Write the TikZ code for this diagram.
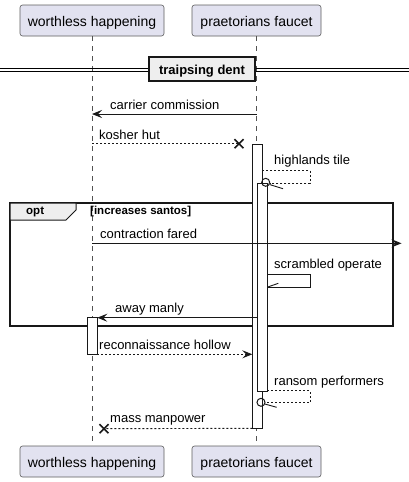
\documentclass[tikz,border=0pt]{standalone}
\usepackage{fontspec}
\setmainfont{Liberation Sans}
\usetikzlibrary{arrows.meta,calc}
\definecolor{partfill}{HTML}{E2E2F0}
\definecolor{partline}{HTML}{181818}
\definecolor{grayfill}{HTML}{EEEEEE}
\begin{document}
\begin{tikzpicture}[x=1pt,y=-1pt, font=\fontsize{13}{15}\selectfont,
 part/.style={draw=partline!70, line width=0.6pt, fill=partfill, rounded corners=2.5pt, minimum height=31pt, inner sep=0pt, text height=12pt, text depth=0pt, font=\fontsize{14}{16}\selectfont},
 lifeline/.style={draw=partline!75, line width=0.6pt, dash pattern=on 5pt off 5pt},
 bar/.style={draw=partline, line width=1pt, fill=white},
 msg/.style={line width=0.9pt, draw=partline},
 ret/.style={msg, dash pattern=on 2pt off 2pt},
 tip/.style={-{Stealth[length=10pt,width=8pt,inset=4pt]}},
 lbl/.style={anchor=base west, inner sep=0pt},
 bold/.style={font=\fontsize{11.5}{13}\selectfont\bfseries},
]
\useasboundingbox (0,0) rectangle (409,482);
% participants
\node[part, minimum width=144pt] (wt) at (92,20.5) {worthless happening};
\node[part, minimum width=129pt] (pt) at (256.5,20.5) {praetorians faucet};
\node[part, minimum width=144pt] (wb) at (92,461.5) {worthless happening};
\node[part, minimum width=129pt] (pb) at (256.5,461.5) {praetorians faucet};
\draw[lifeline] (wt.south) -- (wb.north);
\draw[lifeline] (pt.south) -- (pb.north);
% divider
\draw[line width=1pt] (0,68.3) -- (409,68.3) (0,71.3) -- (409,71.3);
\node[draw=partline, line width=2pt, fill=grayfill, minimum width=106pt, minimum height=24pt, inner sep=0pt, text height=10pt, text depth=0pt, font=\fontsize{13}{15}\selectfont\bfseries] (div) at (202,69) {traipsing dent};
% opt frame
\draw[line width=1.5pt, draw=partline] (10,203) rectangle (393,326);
\draw[line width=1pt, draw=partline, fill=grayfill] (10,203) -- (76,203) -- (76,210) -- (66,220) -- (10,220) -- cycle;
\node[lbl, bold] (optl) at (26,214) {opt};
\node[lbl, bold] (guard) at (90,214) {[increases santos]};
% activation bars
\draw[bar] (252.3,144) rectangle (262.3,428);
\draw[bar] (257.3,183.3) rectangle (267.3,391);
\draw[bar] (87.3,317.7) rectangle (97.3,354.3);
% 1 carrier commission
\coordinate (m1a) at (256.5,114); \coordinate (m1b) at (92,114);
\draw[msg, tip] (m1a) -- (m1b);
\node[lbl] at (110,109.3) {carrier commission};
% 2 kosher hut
\coordinate (m2a) at (92,143.7); \coordinate (m2b) at (239,143.7);
\draw[ret] (m2a) -- (m2b);
\draw[line width=1.6pt, partline] ($(m2b)+(-4.5,-4.5)$) -- ($(m2b)+(4.5,4.5)$) ($(m2b)+(-4.5,4.5)$) -- ($(m2b)+(4.5,-4.5)$);
\node[lbl] at (99,139) {kosher hut};
% 3 highlands tile
\draw[ret] (262.3,170.3) -- (310,170.3) -- (310,183) -- (270,183);
\draw[line width=1pt, partline] (265.7,182.3) circle (4pt);
\draw[msg] (269.5,184.5) -- (283,188.7);
\node[lbl] at (274,164.5) {highlands tile};
% 5 contraction fared
\draw[msg, tip] (92,243.3) -- (401.5,243.3);
\node[lbl] at (100,238.3) {contraction fared};
% 6 scrambled operate
\draw[msg] (267.3,274.3) -- (310,274.3) -- (310,287) -- (267.3,287);
\draw[msg] (267.8,287) -- (278.3,283.3);
\node[lbl] at (274,268.5) {scrambled operate};
% 7 away manly
\draw[msg, tip] (257.3,317.7) -- (97.3,317.7);
\node[lbl] at (115,312.7) {away manly};
% 8 reconnaissance hollow
\draw[ret, tip] (97.3,354.3) -- (252.3,354.3);
\node[lbl] at (99,349.3) {reconnaissance hollow};
% 9 ransom performers
\draw[ret] (267.3,390.7) -- (310,390.7) -- (310,402.7) -- (265,402.7);
\draw[line width=1pt, partline] (261,402.3) circle (4pt);
\draw[msg] (264.8,404) -- (276.7,407.3);
\node[lbl] at (274,385.3) {ransom performers};
% 10 mass manpower
\coordinate (m10a) at (252.3,428.3); \coordinate (m10b) at (104,428.7);
\draw[ret] (m10a) -- (m10b);
\draw[line width=1.6pt, partline] ($(m10b)+(-4.5,-4.5)$) -- ($(m10b)+(4.5,4.5)$) ($(m10b)+(-4.5,4.5)$) -- ($(m10b)+(4.5,-4.5)$);
\node[lbl] at (110,422.5) {mass manpower};
\end{tikzpicture}
\end{document}
